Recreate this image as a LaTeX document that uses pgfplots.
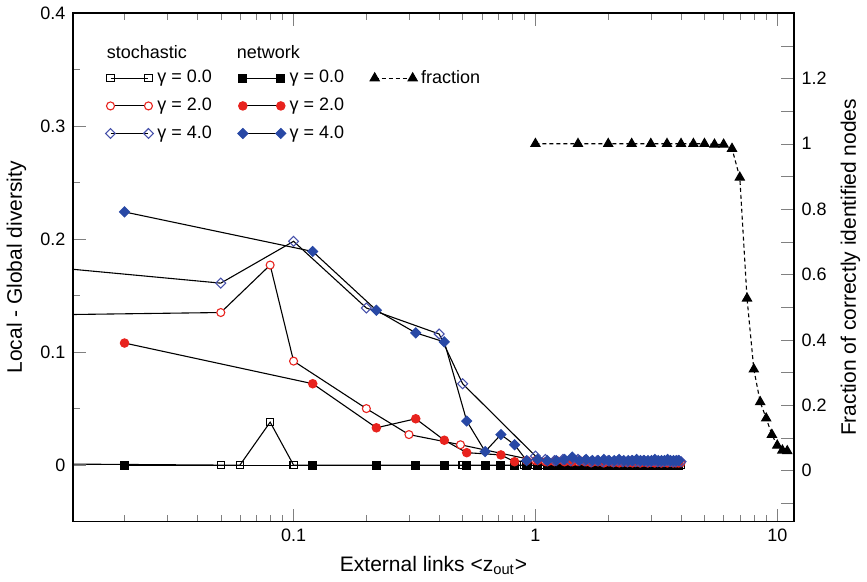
\documentclass[border=0pt]{standalone}
\usepackage{fontspec}
\setmainfont{Liberation Sans}
\usepackage{pgfplots}
\pgfplotsset{compat=1.18}

\definecolor{myred}{RGB}{232,35,30}
\definecolor{myblue}{RGB}{40,72,165}
\definecolor{myblueo}{RGB}{70,80,170}

\begin{document}
\begin{tikzpicture}
\begin{axis}[
  width=361pt, height=254.5pt, scale only axis,
  xmode=log, xmin=0.01222, xmax=11.75,
  /pgf/number format/assume math mode=true,
  tick label style={font=\fontsize{9}{10}\selectfont},
  label style={font=\fontsize{10.5}{12}\selectfont},
  line width=0.8pt,
  tickwidth=6.5pt, subtickwidth=3.5pt,
  ymin=-0.05, ymax=0.4,
  ytick={0,0.1,0.2,0.3,0.4},
  minor ytick={-0.05,0.05,0.15,0.25,0.35},
  ytick pos=left,
  xtick={0.1,1,10},
  xticklabels={0.1,1,10},
  minor xtick={0.02,0.03,0.04,0.05,0.06,0.07,0.08,0.09,0.2,0.3,0.4,0.5,0.6,0.7,0.8,0.9,2,3,4,5,6,7,8,9},
  xlabel={External links <z\textsubscript{out}>},
  ylabel={Local - Global diversity},
  legend columns=3,
  legend style={draw=none, fill=none, at={(0.036,0.905)}, anchor=north west,
    font=\fontsize{9}{10}\selectfont, row sep=2pt,
    /tikz/every even column/.append style={column sep=11pt}},
  legend cell align=left,
  legend image code/.code={\draw[#1] plot coordinates {(0pt,0pt) (19pt,0pt)};},
]

% stochastic gamma = 0.0
\addplot[black, line width=0.55pt, mark=square, mark size=1.8pt, mark options={fill=white}, forget plot] coordinates {
  (0.01,0.001) (0.05,0) (0.06,0) (0.08,0.038) (0.1,0) (0.5,0)
  (0.9,0) (1.0,0) (1.1,0) (1.2,0) (1.3,0) (1.4,0) (1.5,0) (1.6,0) (1.7,0) (1.8,0) (1.9,0)
  (2.0,0) (2.1,0) (2.2,0) (2.3,0) (2.4,0) (2.5,0) (2.6,0) (2.7,0) (2.8,0) (2.9,0)
  (3.0,0) (3.1,0) (3.2,0) (3.3,0) (3.4,0) (3.5,0) (3.6,0) (3.7,0) (3.8,0) (3.9,0) (4.0,0)
};
% network gamma = 0.0
\addplot[black, line width=0.55pt, mark=square*, mark size=2pt, forget plot] coordinates {
  (0.02,0) (0.12,0) (0.22,0) (0.32,0) (0.42,0) (0.52,0) (0.62,0) (0.72,0) (0.82,0) (0.92,0)
  (1.02,0) (1.12,0) (1.22,0) (1.32,0) (1.42,0) (1.52,0) (1.62,0) (1.72,0) (1.82,0) (1.92,0)
  (2.02,0) (2.12,0) (2.22,0) (2.32,0) (2.42,0) (2.52,0) (2.62,0) (2.72,0) (2.82,0) (2.92,0)
  (3.02,0) (3.12,0) (3.22,0) (3.32,0) (3.42,0) (3.52,0) (3.62,0) (3.72,0) (3.82,0) (3.92,0)
};
% stochastic gamma = 2.0
\addplot[black, line width=0.55pt, mark=*, mark size=2pt, mark options={draw=myred, fill=white}, forget plot] coordinates {
  (0.01,0.133) (0.05,0.135) (0.08,0.177) (0.1,0.092) (0.2,0.05) (0.3,0.027) (0.49,0.018)
  (1.0,0.004) (1.1,0.003) (1.2,0.003) (1.3,0.004) (1.4,0.003) (1.5,0.003) (1.6,0.003) (1.7,0.002) (1.8,0.003) (1.9,0.003)
  (2.0,0.003) (2.1,0.002) (2.2,0.003) (2.3,0.003) (2.4,0.002) (2.5,0.003) (2.6,0.003) (2.7,0.002) (2.8,0.003) (2.9,0.002)
  (3.0,0.003) (3.1,0.002) (3.2,0.003) (3.3,0.002) (3.4,0.003) (3.5,0.002) (3.6,0.003) (3.7,0.002) (3.8,0.003) (3.9,0.002) (4.0,0.002)
};
% network gamma = 2.0
\addplot[black, line width=0.55pt, mark=*, mark size=2.1pt, mark options={draw=myred, fill=myred}, forget plot] coordinates {
  (0.02,0.108) (0.12,0.072) (0.22,0.033) (0.32,0.041) (0.42,0.022) (0.52,0.011) (0.72,0.009) (0.82,0.003) (0.92,0.004)
  (1.02,0.004) (1.12,0.003) (1.22,0.004) (1.32,0.003) (1.42,0.003) (1.52,0.004) (1.62,0.003) (1.72,0.003) (1.82,0.003) (1.92,0.002)
  (2.02,0.003) (2.12,0.003) (2.22,0.002) (2.32,0.003) (2.42,0.003) (2.52,0.002) (2.62,0.003) (2.72,0.002) (2.82,0.003) (2.92,0.002)
  (3.02,0.003) (3.12,0.002) (3.22,0.003) (3.32,0.002) (3.42,0.003) (3.52,0.002) (3.62,0.003) (3.72,0.002) (3.82,0.002) (3.92,0.002)
};
% stochastic gamma = 4.0
\addplot[black, line width=0.55pt, mark=square, mark size=1.75pt, mark options={draw=myblueo, fill=white, rotate=45}, forget plot] coordinates {
  (0.01,0.175) (0.05,0.161) (0.1,0.198) (0.2,0.139) (0.4,0.116) (0.5,0.072)
  (1.0,0.008) (1.1,0.005) (1.2,0.004) (1.3,0.005) (1.4,0.004) (1.5,0.005) (1.6,0.004) (1.7,0.003) (1.8,0.004) (1.9,0.003)
  (2.0,0.004) (2.1,0.003) (2.2,0.004) (2.3,0.003) (2.4,0.003) (2.5,0.004) (2.6,0.003) (2.7,0.003) (2.8,0.004) (2.9,0.003)
  (3.0,0.003) (3.1,0.004) (3.2,0.003) (3.3,0.003) (3.4,0.003) (3.5,0.004) (3.6,0.003) (3.7,0.003) (3.8,0.003) (3.9,0.004) (4.0,0.003)
};
% network gamma = 4.0
\addplot[black, line width=0.55pt, mark=square*, mark size=1.75pt, mark options={draw=myblue, fill=myblue, rotate=45}, forget plot] coordinates {
  (0.02,0.224) (0.12,0.189) (0.22,0.137) (0.32,0.117) (0.42,0.109) (0.52,0.039) (0.62,0.012) (0.72,0.027) (0.82,0.018) (0.92,0.004)
  (1.02,0.005) (1.12,0.004) (1.22,0.004) (1.32,0.005) (1.42,0.007) (1.52,0.004) (1.62,0.005) (1.72,0.004) (1.82,0.004) (1.92,0.005)
  (2.02,0.004) (2.12,0.004) (2.22,0.005) (2.32,0.004) (2.42,0.004) (2.52,0.004) (2.62,0.005) (2.72,0.004) (2.82,0.004) (2.92,0.004)
  (3.02,0.004) (3.12,0.005) (3.22,0.004) (3.32,0.004) (3.42,0.004) (3.52,0.005) (3.62,0.004) (3.72,0.004) (3.82,0.004) (3.92,0.004)
};

% legend
\addlegendimage{black, line width=0.55pt, mark=square, mark size=1.8pt, mark options={fill=white}}
\addlegendentry{γ = 0.0}
\addlegendimage{black, line width=0.55pt, mark=square*, mark size=2pt}
\addlegendentry{γ = 0.0}
\addlegendimage{black, line width=0.55pt, dash pattern=on 2pt off 1.5pt, mark=triangle*, mark size=2.6pt, mark options={solid}}
\addlegendentry{fraction}
\addlegendimage{black, line width=0.55pt, mark=*, mark size=2pt, mark options={draw=myred, fill=white}}
\addlegendentry{γ = 2.0}
\addlegendimage{black, line width=0.55pt, mark=*, mark size=2.1pt, mark options={draw=myred, fill=myred}}
\addlegendentry{γ = 2.0}
\addlegendimage{empty legend}
\addlegendentry{}
\addlegendimage{black, line width=0.55pt, mark=square, mark size=1.75pt, mark options={draw=myblueo, fill=white, rotate=45}}
\addlegendentry{γ = 4.0}
\addlegendimage{black, line width=0.55pt, mark=square*, mark size=1.75pt, mark options={draw=myblue, fill=myblue, rotate=45}}
\addlegendentry{γ = 4.0}
\addlegendimage{empty legend}
\addlegendentry{}

\node[anchor=base west, font=\fontsize{9}{10}\selectfont] at (rel axis cs:0.037,0.91) {stochastic};
\node[anchor=base west, font=\fontsize{9}{10}\selectfont] at (rel axis cs:0.217,0.91) {network};
\end{axis}

\begin{axis}[
  width=361pt, height=254.5pt, scale only axis,
  xmode=log, xmin=0.01222, xmax=11.75,
  /pgf/number format/assume math mode=true,
  tick label style={font=\fontsize{9}{10}\selectfont},
  label style={font=\fontsize{10.5}{12}\selectfont},
  line width=0.8pt,
  tickwidth=6.5pt, subtickwidth=6.5pt,
  ymin=-0.156, ymax=1.4,
  hide x axis,
  ytick pos=right,
  yticklabel pos=right,
  ytick={0,0.2,0.4,0.6,0.8,1,1.2},
  minor ytick={-0.1,0.1,0.3,0.5,0.7,0.9,1.1,1.3},
  ylabel={Fraction of correctly identified nodes},
]
\addplot[black, line width=0.55pt, dash pattern=on 2pt off 1.5pt, mark=triangle*, mark size=2.6pt, mark options={solid}] coordinates {
  (1.0,1.0) (1.5,1.0) (2.0,1.0) (2.5,1.0) (3.0,1.0) (3.5,1.0) (4.0,1.0) (4.5,1.0) (5.0,1.0) (5.5,0.998) (6.0,0.998) (6.5,0.985)
  (7.0,0.897) (7.5,0.527) (8.0,0.31) (8.5,0.21) (9.0,0.16) (9.5,0.11) (10.0,0.077) (10.5,0.062) (11.0,0.06)
};
\end{axis}
\end{tikzpicture}
\end{document}
